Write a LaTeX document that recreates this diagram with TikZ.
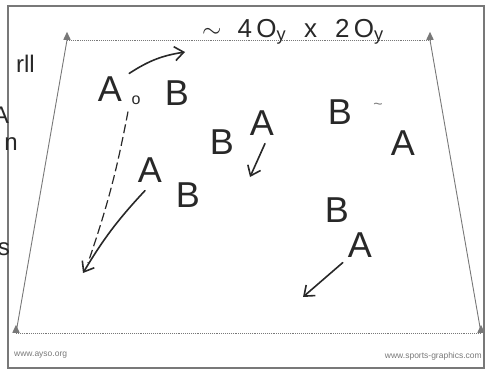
\documentclass[tikz,border=0pt]{standalone}
\usepackage{fontspec}
\setmainfont{Liberation Sans}
\usepackage{xcolor}
\definecolor{ink}{RGB}{40, 40, 40}
\definecolor{pitchgray}{RGB}{120, 120, 120}
\usetikzlibrary{shapes, arrows.meta, positioning, calc}

\begin{document}
\begin{tikzpicture}[x=1pt, y=-1pt,
    player/.style={font=\fontsize{36}{36}\selectfont, text=ink, inner sep=0pt},
    scrawl/.style={font=\fontsize{24}{24}\selectfont, text=ink, inner sep=0pt},
    run/.style={-{Straight Barb[length=9pt, width=14pt]}, line width=1.6pt, color=ink, line cap=round},
    pass/.style={dash pattern=on 9pt off 4pt, line width=1.2pt, color=ink},
    cone/.style={isosceles triangle, shape border rotate=90, isosceles triangle apex angle=50,
      fill=pitchgray, minimum height=8pt, minimum width=5pt, inner sep=0pt},
    field/.style={draw=pitchgray, line width=0.9pt},
    web/.style={font=\fontsize{8.5}{8.5}\selectfont, text=pitchgray, inner sep=0pt}
  ]
    \useasboundingbox (0,0) rectangle (485,372);
    \draw[pitchgray, line width=1.3pt] (8,6) rectangle (484,368);

    % field corners
    \coordinate (tl) at (67,40);
    \coordinate (tr) at (430,40);
    \coordinate (br) at (481,333);
    \coordinate (bl) at (16,333);
    \draw[field] (tl) -- (bl);
    \draw[field] (tr) -- (br);
    \draw[field, densely dotted] (tl) -- (tr);
    \draw[field, densely dotted] (bl) -- (br);
    \node[cone, anchor=south] (c1) at (tl) {};
    \node[cone, anchor=south] (c2) at (tr) {};
    \node[cone, anchor=south] (c3) at (br) {};
    \node[cone, anchor=south] (c4) at (bl) {};

    \node[scrawl, font=\fontsize{26}{26}\selectfont, anchor=base] (size) at (293,37)
      {$\sim$\hspace{16pt}4\,O\textsubscript{y}\hspace{18pt}x\hspace{18pt}2\,O\textsubscript{y}};

    % cut-off notes at the left edge
    \node[scrawl, anchor=east] (n1) at (35,64) {rll};
    \node[scrawl, anchor=east] (n2) at (9,115) {A};
    \node[scrawl, anchor=east] (n3) at (18,144) {n};
    \node[scrawl, anchor=east] (n4) at (10,249) {s};

    % players
    \node[player] (a1) at (110,89) {A};
    \node[font=\fontsize{16}{16}\selectfont, text=ink, inner sep=0pt] (ball) at (136,100) {o};
    \node[player] (b1) at (177,93) {B};
    \node[player] (a2) at (150,170) {A};
    \node[player] (b2) at (188,195) {B};
    \node[player] (b3) at (222,142) {B};
    \node[player] (a3) at (262,123) {A};
    \node[player] (b4) at (340,112) {B};
    \node[font=\fontsize{16}{16}\selectfont, text=ink!60, inner sep=0pt] (mark) at (378,106) {\textasciitilde};
    \node[player] (a4) at (403,143) {A};
    \node[player] (b5) at (337,210) {B};
    \node[player] (a5) at (360,245) {A};

    % runs and pass
    \coordinate (t1) at (185,52);
    \coordinate (t2) at (83,273);
    \coordinate (t3) at (250,177);
    \coordinate (t4) at (303,297);
    \draw[run] ([shift={(7,-3)}]a1.north east) to[bend left=12] (t1);
    \draw[pass] ([shift={(-8,7)}]ball.south) to[bend left=4] ([shift={(5,-10)}]t2);
    \draw[run] ([shift={(-5,8)}]a2.south) to[bend right=6] (t2);
    \draw[run] ([shift={(3,8)}]a3.south) -- (t3);
    \draw[run] ([shift={(-5,5)}]a5.south west) -- (t4);

    \node[web, anchor=west] (w1) at (14,355) {www.ayso.org};
    \node[web, anchor=east] (w2) at (482,356) {www.sports-graphics.com};
  \end{tikzpicture}
\end{document}
